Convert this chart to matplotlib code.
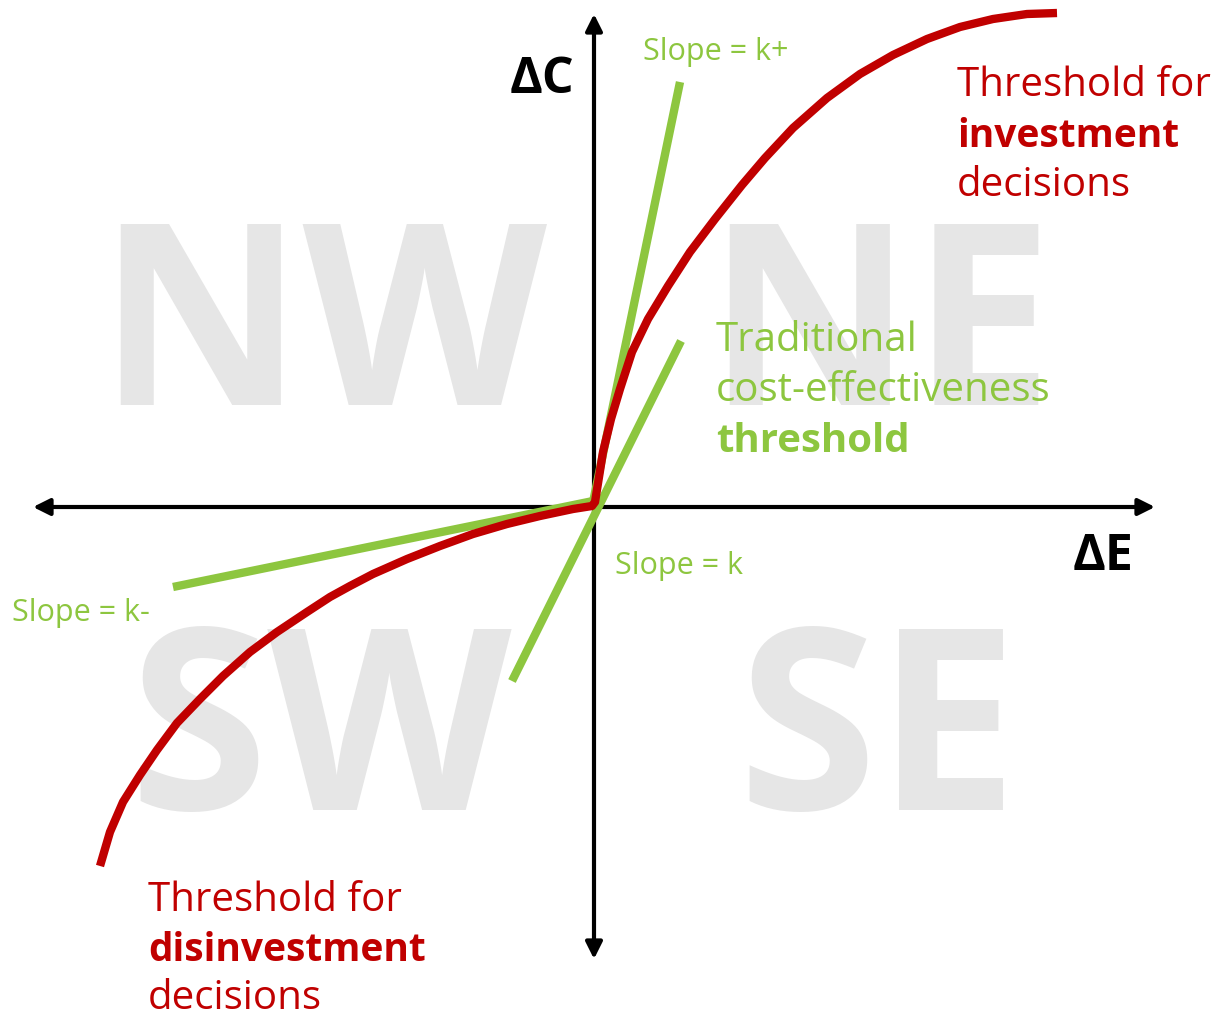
import matplotlib.pyplot as plt

# red threshold curve (pixel-space coordinates)
red_x = [100, 110, 123, 140, 157, 177, 200, 223, 250, 277, 307, 330,
         350, 373, 407, 440, 473, 507, 540, 573, 592,
         595, 603, 611, 620, 632, 648, 668, 690, 715, 742, 765, 793,
         827, 860, 893, 927, 960, 993, 1027, 1057]
red_y = [867, 833, 803, 776, 751, 724, 700, 677, 653, 633, 613, 598,
         587, 575, 560, 547, 535, 525, 517, 510, 507,
         503, 453, 420, 390, 353, 320, 287, 253, 220, 186, 159, 129,
         99, 75, 56, 40, 28, 20, 15, 14]

# green slope lines: (x0, y0, x1, y1)
slope_kplus = [592, 508, 680, 83]
slope_k = [512, 682, 681, 342]
slope_kminus = [173, 588, 593, 502]

quadrants = ['NW', 'NE', 'SW', 'SE']
quad_pos = [(322, 405), (880, 405), (320, 810), (878, 810)]

RED = '#c00000'
GREEN = '#8dc63f'
GRAY = '#e6e6e6'
FONT = ['Open Sans', 'DejaVu Sans']

fig = plt.figure(figsize=(12.17, 10.20), dpi=100)
ax = fig.add_axes([0, 0, 1, 1])
ax.set_xlim(0, 1217)
ax.set_ylim(1020, 0)
ax.axis('off')

for q, (x, y) in zip(quadrants, quad_pos):
    ax.text(x, y, q, fontsize=182, fontweight='bold', color=GRAY,
            ha='center', va='baseline', family=FONT, zorder=0)

# axes arrows
ax.annotate('', xy=(33, 508), xytext=(1155, 508),
            arrowprops=dict(arrowstyle='<|-|>', lw=3, color='black',
                            mutation_scale=25, shrinkA=0, shrinkB=0), zorder=2)
ax.annotate('', xy=(594, 15), xytext=(594, 960),
            arrowprops=dict(arrowstyle='<|-|>', lw=3, color='black',
                            mutation_scale=25, shrinkA=0, shrinkB=0), zorder=2)

for s in [slope_kplus, slope_k, slope_kminus]:
    ax.plot([s[0], s[2]], [s[1], s[3]], color=GREEN, lw=6, zorder=3,
            solid_capstyle='butt')

ax.plot(red_x, red_y, color=RED, lw=6, zorder=4, solid_capstyle='butt',
        solid_joinstyle='round')

ax.text(510, 93, 'ΔC', fontsize=36, fontweight='bold', color='black',
        va='baseline', family=FONT)
ax.text(1073, 570, 'ΔE', fontsize=36, fontweight='bold', color='black',
        va='baseline', family=FONT)

ax.text(643, 60, 'Slope = k+', fontsize=22, color=GREEN, va='baseline', family=FONT)
ax.text(615, 574, 'Slope = k', fontsize=22, color=GREEN, va='baseline', family=FONT)
ax.text(12, 621, 'Slope = k-', fontsize=22, color=GREEN, va='baseline', family=FONT)

ax.text(716, 351, 'Traditional', fontsize=29, color=GREEN, va='baseline', family=FONT)
ax.text(716, 401, 'cost-effectiveness', fontsize=29, color=GREEN, va='baseline', family=FONT)
ax.text(716, 452, 'threshold', fontsize=29, color=GREEN, fontweight='bold',
        va='baseline', family=FONT)

ax.text(957, 96, 'Threshold for', fontsize=29, color=RED, va='baseline', family=FONT)
ax.text(957, 147, 'investment', fontsize=28, color=RED, fontweight='bold',
        va='baseline', family=FONT)
ax.text(957, 196, 'decisions', fontsize=29, color=RED, va='baseline', family=FONT)

ax.text(148, 911, 'Threshold for', fontsize=29, color=RED, va='baseline', family=FONT)
ax.text(148, 961, 'disinvestment', fontsize=28, color=RED, fontweight='bold',
        va='baseline', family=FONT)
ax.text(148, 1009, 'decisions', fontsize=29, color=RED, va='baseline', family=FONT)

fig.savefig('out.png', dpi=100)
